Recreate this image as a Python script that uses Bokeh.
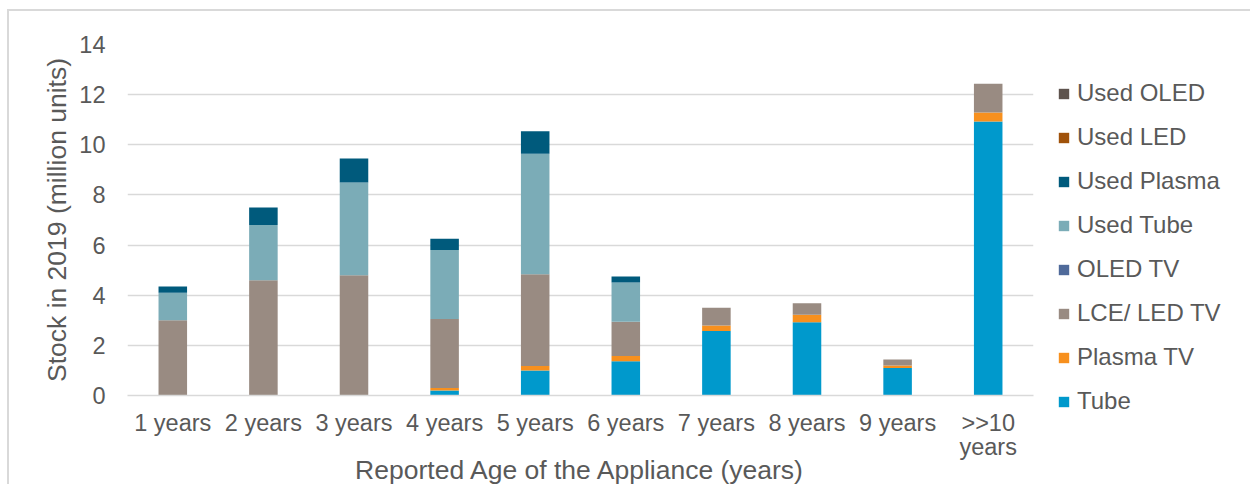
from bokeh.plotting import figure
from bokeh.models import (ColumnDataSource, Range1d, Legend, LegendItem, FixedTicker,
                          SingleIntervalTicker, LinearAxis)
from bokeh.embed import file_html
from bokeh.resources import INLINE

ages = ["1 years", "2 years", "3 years", "4 years", "5 years",
        "6 years", "7 years", "8 years", "9 years", ">>10 years"]
age_line1 = ["1 years", "2 years", "3 years", "4 years", "5 years",
             "6 years", "7 years", "8 years", "9 years", ">>10"]
age_line2 = ["", "", "", "", "", "", "", "", "", "years"]

tube         = [0.0, 0.0, 0.0, 0.20, 1.00, 1.37, 2.57, 2.92, 1.10, 10.93]
plasma_tv    = [0.0, 0.0, 0.0, 0.10, 0.18, 0.21, 0.22, 0.30, 0.10, 0.36]
lcd_led_tv   = [3.00, 4.60, 4.80, 2.75, 3.66, 1.36, 0.71, 0.46, 0.24, 1.14]
oled_tv      = [0.0, 0.0, 0.0, 0.0, 0.0, 0.0, 0.0, 0.0, 0.0, 0.0]
used_tube    = [1.10, 2.20, 3.70, 2.75, 4.80, 1.57, 0.0, 0.0, 0.0, 0.0]
used_plasma  = [0.25, 0.70, 0.95, 0.45, 0.90, 0.24, 0.0, 0.0, 0.0, 0.0]
used_led     = [0.0, 0.0, 0.0, 0.0, 0.0, 0.0, 0.0, 0.0, 0.0, 0.0]
used_oled    = [0.0, 0.0, 0.0, 0.0, 0.0, 0.0, 0.0, 0.0, 0.0, 0.0]

series_names = ["Tube", "Plasma TV", "LCE/ LED TV", "OLED TV",
                "Used Tube", "Used Plasma", "Used LED", "Used OLED"]
series_keys = ["tube", "plasma_tv", "lcd_led_tv", "oled_tv",
               "used_tube", "used_plasma", "used_led", "used_oled"]
colors = ["#0099CC", "#F7901E", "#998B82", "#4F6A9A",
          "#7BACB7", "#005A7C", "#A0520A", "#5E534D"]

pos = list(range(len(ages)))
source = ColumnDataSource(data=dict(
    pos=pos, age=ages, tube=tube, plasma_tv=plasma_tv, lcd_led_tv=lcd_led_tv, oled_tv=oled_tv,
    used_tube=used_tube, used_plasma=used_plasma, used_led=used_led, used_oled=used_oled))

FONT = "Liberation Sans"
TXT = "#595959"
GRID = "#D9D9D9"

p = figure(x_range=Range1d(-0.5, len(ages) - 0.5), y_range=(0, 14),
           frame_width=906, frame_height=351,
           output_backend="svg", toolbar_location=None,
           min_border_left=118, min_border_right=217, min_border_top=33, min_border_bottom=89)
p.outline_line_color = None
p.background_fill_color = "white"
p.border_fill_color = "white"
p.styles = {"margin-left": "7px", "margin-top": "9px",
            "border-left": "2px solid #D9D9D9", "border-top": "2px solid #D9D9D9"}

renderers = p.vbar_stack(series_keys, x="pos", width=0.315, color=colors,
                         line_color=None, source=source)

items = [LegendItem(label=name, renderers=[r]) for name, r in zip(series_names, renderers)]
items = items[::-1]
legend = Legend(items=items, location=(24, -20),
                label_text_font=FONT, label_text_font_size="24px", label_text_color=TXT,
                glyph_width=13, glyph_height=13, spacing=16, label_standoff=7,
                border_line_color=None, background_fill_alpha=0, padding=0, margin=0)
p.add_layout(legend, "right")

p.xgrid.grid_line_color = None
p.ygrid.grid_line_color = GRID
p.ygrid.grid_line_width = 1.5
p.yaxis.ticker = SingleIntervalTicker(interval=2)

p.yaxis.axis_line_color = None
p.yaxis.major_tick_line_color = None
p.yaxis.minor_tick_line_color = None
p.yaxis.major_label_standoff = 16
p.yaxis.major_label_text_font = FONT
p.yaxis.major_label_text_font_size = "23.5px"
p.yaxis.major_label_text_color = TXT
p.yaxis.axis_label = "Stock in 2019 (million units)"
p.yaxis.axis_label_text_font = FONT
p.yaxis.axis_label_text_font_size = "26.5px"
p.yaxis.axis_label_text_font_style = "normal"
p.yaxis.axis_label_text_color = TXT
p.yaxis.axis_label_standoff = 4

xa = p.xaxis[0]
xa.ticker = FixedTicker(ticks=pos)
xa.major_label_overrides = {i: t for i, t in zip(pos, age_line1)}
xa.axis_line_color = GRID
xa.axis_line_width = 1.5
xa.major_tick_line_color = None
xa.minor_tick_line_color = None
xa.major_label_standoff = 8
xa.major_label_text_font = FONT
xa.major_label_text_font_size = "23.5px"
xa.major_label_text_color = TXT

xb = LinearAxis()
xb.ticker = FixedTicker(ticks=pos)
xb.major_label_overrides = {i: (t if t else " ") for i, t in zip(pos, age_line2)}
xb.axis_line_color = None
xb.major_tick_line_color = None
xb.minor_tick_line_color = None
xb.major_label_standoff = -11
xb.major_label_text_font = FONT
xb.major_label_text_font_size = "23.5px"
xb.major_label_text_color = TXT
xb.axis_label = "Reported Age of the Appliance (years)"
xb.axis_label_text_font = FONT
xb.axis_label_text_font_size = "26.5px"
xb.axis_label_text_font_style = "normal"
xb.axis_label_text_color = TXT
xb.axis_label_standoff = -8
p.add_layout(xb, "below")

open("out.html", "w").write(file_html(p, INLINE))
